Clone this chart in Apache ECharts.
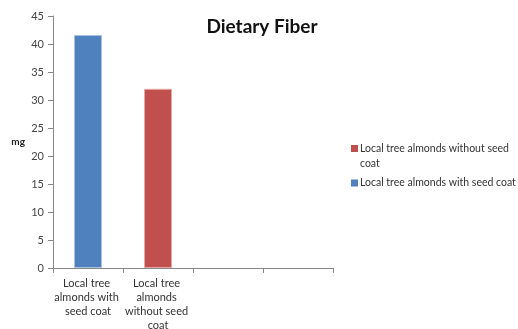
<!DOCTYPE html>
<html>
<head>
<meta charset="utf-8">
<script src="https://cdn.jsdelivr.net/npm/echarts@6/dist/echarts.min.js"></script>
<style>
  html, body { margin: 0; padding: 0; background: #fff; }
  #chart { width: 518px; height: 329px; }
</style>
</head>
<body>
<div id="chart"></div>
<script>
// Dietary fiber content of local tree almonds (mg)
const categories = ['Local tree almonds with seed coat', 'Local tree almonds without seed coat', '', ''];
const withCoatName = 'Local tree almonds with seed coat';
const withoutCoatName = 'Local tree almonds without seed coat';
const withCoat = [41.6, null, null, null];
const withoutCoat = [null, 32, null, null];
const yTicks = { min: 0, max: 45, interval: 5 };

const font = 'Lato, "Open Sans", sans-serif';
const axisGray = '#868686';

// Legend swatches: a 7px square inside a 22px-tall box. The top-anchored one
// sits beside the first line of a wrapped label, the centred one beside a single line.
const swatchTop = 'path://M0,0H7V7H0Z M0,22L0,22';
const swatchMid = 'path://M0,0H7V7H0Z M0,-7.5L0,-7.5 M0,14.5L0,14.5';

const chart = echarts.init(document.getElementById('chart'), null, { renderer: 'canvas' });
chart.setOption({
  animation: false,
  backgroundColor: '#ffffff',
  title: {
    text: 'Dietary Fiber',
    left: 257,
    top: 12,
    textAlign: 'center',
    textStyle: { fontFamily: font, fontWeight: 'bold', fontSize: 19, color: '#111' }
  },
  legend: {
    orient: 'vertical',
    left: 346,
    top: 136,
    itemWidth: 7,
    itemHeight: 22,
    itemGap: 1,
    itemStyle: { borderWidth: 0 },
    data: [
      { name: withoutCoatName, icon: swatchTop },
      { name: withCoatName, icon: swatchMid }
    ],
    textStyle: {
      fontFamily: font, fontSize: 10.5, color: '#333',
      width: 158, overflow: 'break', lineHeight: 15, padding: [0, 0, 0, -3]
    }
  },
  grid: { left: 53, top: 16, right: 185, bottom: 61, outerBoundsMode: 'none', containLabel: false },
  xAxis: {
    type: 'category',
    data: categories,
    axisLine: { lineStyle: { color: axisGray } },
    axisTick: { show: true, alignWithLabel: false, length: 5, lineStyle: { color: axisGray } },
    axisLabel: {
      interval: 0, width: 68, overflow: 'break', lineHeight: 14, margin: 8,
      fontFamily: font, fontSize: 11, color: '#333'
    }
  },
  yAxis: {
    type: 'value',
    min: yTicks.min,
    max: yTicks.max,
    interval: yTicks.interval,
    name: 'mg',
    nameLocation: 'middle',
    nameRotate: 0,
    nameGap: 28,
    nameTextStyle: { fontFamily: font, fontWeight: 'bold', fontSize: 10, color: '#222', padding: [6, 0, 0, 0] },
    splitLine: { show: false },
    axisLine: { show: true, lineStyle: { color: axisGray } },
    axisTick: { show: true, length: 5, lineStyle: { color: axisGray } },
    axisLabel: { fontFamily: font, fontSize: 11, color: '#444', margin: 9 }
  },
  series: [
    {
      name: withoutCoatName,
      type: 'bar',
      stack: 'fiber',
      data: withoutCoat,
      barWidth: 28,
      itemStyle: { color: '#c0504d', borderColor: '#e6a8a6', borderWidth: 1 }
    },
    {
      name: withCoatName,
      type: 'bar',
      stack: 'fiber',
      data: withCoat,
      barWidth: 28,
      itemStyle: { color: '#4f81bd', borderColor: '#a9c3e3', borderWidth: 1 }
    }
  ]
});
</script>
</body>
</html>
